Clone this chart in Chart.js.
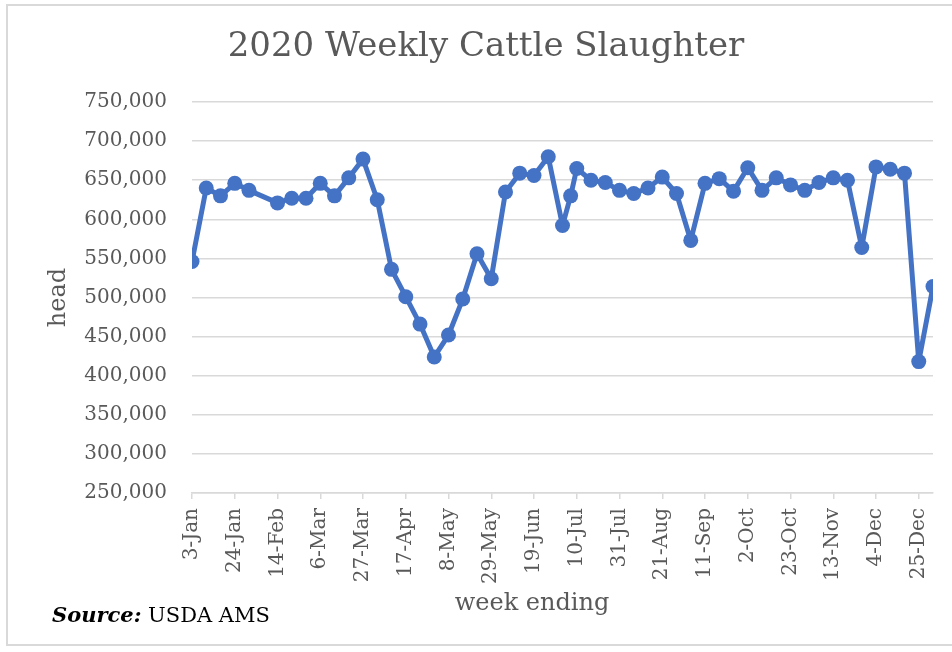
<!DOCTYPE html>
<html>
<head>
<meta charset="utf-8">
<script src="https://cdn.jsdelivr.net/npm/chart.js@4"></script>
<style>
  body { margin: 0; background: #fff; }
  #wrap { position: relative; width: 952px; height: 652px; overflow: hidden; }
  #frame { position: absolute; left: 6px; top: 4px; width: 960px; height: 642px; border: 2px solid #d9d9d9; box-sizing: border-box; }
  #source { position: absolute; left: 52px; top: 603px; font-family: 'DejaVu Serif', serif; font-size: 21px; line-height: 24px; color: #000; }
  #source b { font-style: italic; }
  canvas { position: absolute; left: 0; top: 0; }
</style>
</head>
<body>
<div id="wrap">
  <div id="frame"></div>
  <canvas id="chart" width="952" height="652"></canvas>
  <div id="source"><b>Source:</b> USDA AMS</div>
</div>
<script>
// week ending dates (7-Feb not in the data, extra entry on 7-Jul)
const weekEnding = [
  '2020-01-03', '2020-01-10', '2020-01-17', '2020-01-24', '2020-01-31',
  '2020-02-14', '2020-02-21', '2020-02-28',
  '2020-03-06', '2020-03-13', '2020-03-20', '2020-03-27',
  '2020-04-03', '2020-04-10', '2020-04-17', '2020-04-24',
  '2020-05-01', '2020-05-08', '2020-05-15', '2020-05-22', '2020-05-29',
  '2020-06-05', '2020-06-12', '2020-06-19', '2020-06-26',
  '2020-07-03', '2020-07-07', '2020-07-10', '2020-07-17', '2020-07-24', '2020-07-31',
  '2020-08-07', '2020-08-14', '2020-08-21', '2020-08-28',
  '2020-09-04', '2020-09-11', '2020-09-18', '2020-09-25',
  '2020-10-02', '2020-10-09', '2020-10-16', '2020-10-23', '2020-10-30',
  '2020-11-06', '2020-11-13', '2020-11-20', '2020-11-27',
  '2020-12-04', '2020-12-11', '2020-12-18', '2020-12-25',
  '2021-01-01'
];

// head slaughtered per week
const cattleHead = [
  546000, 640000, 630000, 646000, 637000,
  621000, 627000, 627000,
  646000, 630000, 653000, 677000,
  625000, 536000, 501000, 466000,
  424000, 452000, 498000, 556000, 524000,
  635000, 659000, 656000, 680000,
  592000, 630000, 665000, 650000, 647000, 637000,
  633000, 640000, 654000, 633000,
  573000, 646000, 652000, 636000,
  666000, 637000, 653000, 644000, 637000,
  647000, 653000, 650000, 564000,
  667000, 664000, 659000, 418000,
  514000
];

// x tick labels, every three weeks
const tickLabels = ['3-Jan', '24-Jan', '14-Feb', '6-Mar', '27-Mar', '17-Apr', '8-May', '29-May', '19-Jun',
  '10-Jul', '31-Jul', '21-Aug', '11-Sep', '2-Oct', '23-Oct', '13-Nov', '4-Dec', '25-Dec'];

const yMin = 250000;
const yMax = 750000;
const yStep = 50000;

const startDay = Date.UTC(2020, 0, 3);
function dayOffset(iso) {
  const [y, m, d] = iso.split('-').map(Number);
  return Math.round((Date.UTC(y, m - 1, d) - startDay) / 86400000);
}

const points = weekEnding.map((d, i) => ({ x: dayOffset(d), y: cattleHead[i] }));
const tickDays = tickLabels.map((lbl, i) => i * 21);

const textGray = '#595959';
const gridGray = '#d9d9d9';
const serif = 'DejaVu Serif';

// chart title and x axis title, placed where the original has them
const extraText = {
  id: 'extraText',
  afterDraw(chart) {
    const ctx = chart.ctx;
    ctx.save();
    ctx.fillStyle = textGray;
    ctx.textAlign = 'center';
    ctx.textBaseline = 'middle';
    ctx.font = '34px "' + serif + '"';
    ctx.fillText('2020 Weekly Cattle Slaughter', 486, 47);
    ctx.font = '24px "' + serif + '"';
    ctx.fillText('week ending', 532, 604);
    ctx.restore();
  }
};

new Chart(document.getElementById('chart'), {
  type: 'line',
  data: {
    datasets: [{
      data: points,
      borderColor: '#4472C4',
      backgroundColor: '#4472C4',
      borderWidth: 5,
      borderJoinStyle: 'round',
      borderCapStyle: 'round',
      pointRadius: 7.5,
      pointBorderWidth: 0,
      pointBackgroundColor: '#4472C4',
      tension: 0
    }]
  },
  options: {
    responsive: false,
    animation: false,
    layout: { padding: { top: 102, right: 13, left: 0, bottom: 0 } },
    plugins: {
      legend: { display: false },
      tooltip: { enabled: false },
      title: { display: false }
    },
    scales: {
      x: {
        type: 'linear',
        min: 0,
        max: dayOffset(weekEnding[weekEnding.length - 1]),
        afterBuildTicks: (s) => { s.ticks = tickDays.map(v => ({ value: v })); },
        afterFit: (s) => { s.height = 652 - 493; },
        ticks: {
          autoSkip: false,
          minRotation: 90,
          maxRotation: 90,
          padding: 9,
          color: textGray,
          font: { family: serif, size: 20 },
          callback: (v) => tickLabels[tickDays.indexOf(v)]
        },
        grid: {
          drawOnChartArea: false,
          drawTicks: true,
          tickLength: 6,
          tickColor: gridGray,
          lineWidth: 1.5
        },
        border: { color: gridGray, width: 1.5 }
      },
      y: {
        min: yMin,
        max: yMax,
        afterFit: (s) => { s.width = 192; },
        ticks: {
          stepSize: yStep,
          padding: 25,
          color: textGray,
          font: { family: serif, size: 20 },
          callback: (v) => v.toLocaleString('en-US')
        },
        grid: { color: gridGray, lineWidth: 1.5, drawTicks: false },
        border: { display: false },
        title: {
          display: true,
          text: 'head',
          color: textGray,
          font: { family: serif, size: 24 },
          padding: { top: 44 }
        }
      }
    }
  },
  plugins: [extraText]
});
</script>
</body>
</html>
